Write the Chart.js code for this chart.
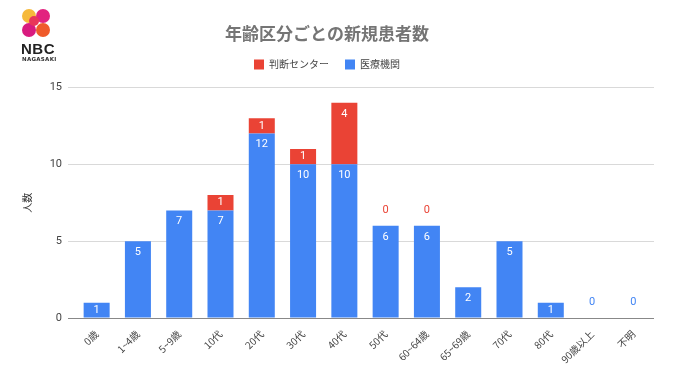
<!DOCTYPE html>
<html><head><meta charset="utf-8">
<script src="https://cdn.jsdelivr.net/npm/chart.js@4"></script>
<style>
html,body{margin:0;padding:0;background:#fff;}
#wrap{position:relative;width:680px;height:382px;}
.c{position:absolute;width:14px;height:14px;border-radius:50%;}
#nbc{position:absolute;left:21px;top:40px;font:bold 15px "Liberation Sans",Arial,sans-serif;color:#222;letter-spacing:0.5px;}
#nag{position:absolute;left:22px;top:56px;font:bold 5.5px "DejaVu Sans",sans-serif;color:#333;letter-spacing:0.3px;}
</style></head>
<body><div id="wrap">
<canvas id="c" width="680" height="382"></canvas>
<div class="c" style="left:22px;top:9px;background:#f6b93b;"></div>
<div class="c" style="left:36px;top:9px;background:#e2237f;"></div>
<div class="c" style="left:22px;top:23px;background:#d81b7f;"></div>
<div class="c" style="left:36px;top:23px;background:#ef5a2a;"></div>
<div class="c" style="left:29px;top:16px;width:10px;height:10px;background:#e8365a;"></div>
<div id="nbc">NBC</div>
<div id="nag">NAGASAKI</div>
</div>
<script>
const categories = ['0歳','1~4歳','5~9歳','10代','20代','30代','40代','50代','60~64歳','65~69歳','70代','80代','90歳以上','不明'];
const iryoKikan = [1,5,7,7,12,10,10,6,6,2,5,1,0,0];
const handanCenter = [null,null,null,1,1,1,4,0,0,null,null,null,null,null];
const yTicks = [0,5,10,15];

const labelPlugin = {
  id:'valueLabels',
  afterDatasetsDraw(chart){
    const ctx = chart.ctx;
    ctx.save();
    ctx.font = '11px "Roboto","Noto Sans",sans-serif';
    ctx.textAlign = 'center';
    ctx.textBaseline = 'middle';
    chart.data.datasets.forEach((ds,di)=>{
      const meta = chart.getDatasetMeta(di);
      meta.data.forEach((el,i)=>{
        const v = ds.data[i];
        if (v === null || v === undefined) return;
        if (v === 0) {
          ctx.fillStyle = ds.backgroundColor;
          ctx.fillText('0', el.x, el.y - 16);
        } else {
          const top = Math.min(el.y, el.base), bot = Math.max(el.y, el.base);
          const cy = Math.min(top + 11, (top + bot) / 2);
          ctx.fillStyle = '#ffffff';
          ctx.fillText(String(v), el.x, cy);
        }
      });
    });
    ctx.restore();
  }
};

const legendGap = {
  id:'legendGap',
  afterInit(chart){
    const lg = chart.legend;
    if (!lg) return;
    const f = lg.fit.bind(lg);
    lg.fit = function(){ f(); this.height += 8; };
  }
};

new Chart(document.getElementById('c'), {
  type:'bar',
  data:{
    labels: categories,
    datasets:[
      {label:'医療機関', data: iryoKikan, backgroundColor:'#4285f4', stack:'s'},
      {label:'判断センター', data: handanCenter, backgroundColor:'#ea4335', stack:'s'}
    ]
  },
  options:{
    responsive:false,
    animation:false,
    layout:{padding:{left:0,right:26,top:0,bottom:0}},
    datasets:{bar:{barPercentage:0.63,categoryPercentage:1}},
    plugins:{
      title:{display:true,text:'年齢区分ごとの新規患者数',color:'#757575',
        font:{family:'"Noto Sans CJK JP"',size:17,weight:'bold'},padding:{top:23,bottom:0}},
      legend:{display:true,
        labels:{boxWidth:10,boxHeight:10,padding:16,color:'#444',
          font:{family:'"Noto Sans CJK JP"',size:10},
          sort:(a,b)=>b.datasetIndex-a.datasetIndex}},
      tooltip:{enabled:false}
    },
    scales:{
      x:{stacked:true,
        grid:{display:false},
        border:{display:false},
        ticks:{maxRotation:45,minRotation:45,color:'#444',padding:2,
          font:{family:'"Noto Sans CJK JP"',size:10}},
        afterFit(s){s.height=64;}
      },
      y:{stacked:true,min:0,max:15,
        afterBuildTicks(s){s.ticks=yTicks.map(v=>({value:v}));},
        grid:{color:(c)=>c.tick && c.tick.value===0?'#888':'#d9d9d9',tickLength:8},
        border:{display:false},
        ticks:{color:'#444',padding:6,font:{family:'"Roboto",sans-serif',size:11}},
        title:{display:true,text:'人数',color:'#333',padding:{top:21,bottom:0},
          font:{family:'"Noto Sans CJK JP"',size:10}},
        afterFit(s){s.width=76;}
      }
    }
  },
  plugins:[labelPlugin, legendGap]
});
</script>
</body></html>
